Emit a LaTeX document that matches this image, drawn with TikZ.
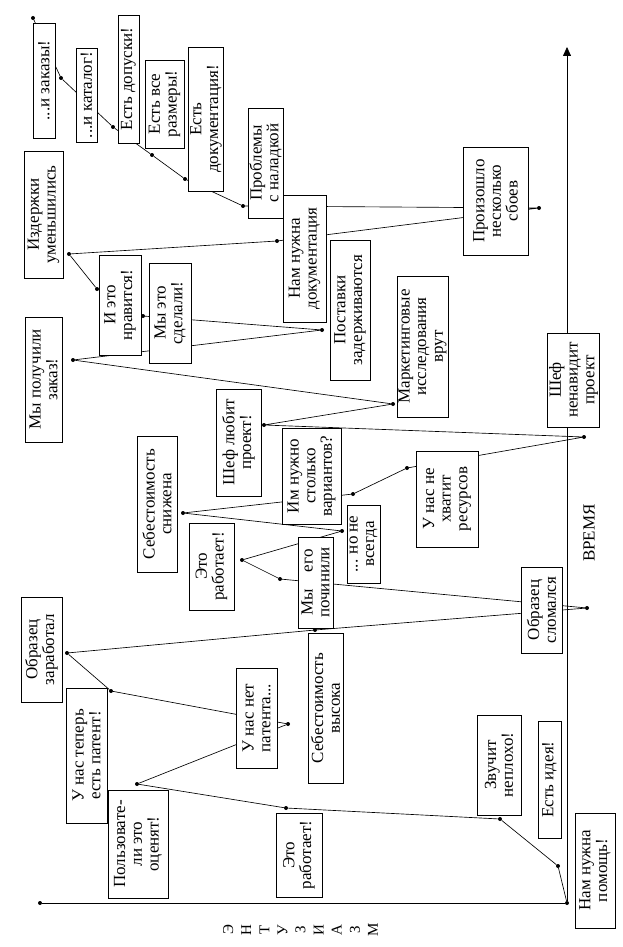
\documentclass[tikz,border=0pt]{standalone}
\usepackage{fontspec}
\setmainfont{Liberation Serif}
\usepackage{tikz}
\usetikzlibrary{arrows.meta,positioning}

\begin{document}
\begin{tikzpicture}[
  x=1pt, y=-1pt,
  box/.style={draw, fill=white, rotate=90, align=center, inner sep=1.5pt,
    line width=0.7pt, font=\fontsize{17}{16.7}\selectfont},
  sz/.style 2 args={minimum width=#1pt, minimum height=#2pt},
  dot/.style={circle, fill, inner sep=0pt, minimum size=4pt},
  curve/.style={line width=0.65pt},
  axis/.style={line width=0.75pt}]
  \fill[white] (0,0) rectangle (623,947);
  \useasboundingbox (0,0) rectangle (623,947);

  % points of the curve
  \node[dot] (help) at (567,903) {};
  \node[dot] (idea) at (558,866) {};
  \node[dot] (sounds) at (500,819) {};
  \node[dot] (works) at (286,808) {};
  \node[dot] (users) at (137,784) {};
  \node[dot] (nopatent) at (288,724) {};
  \node[dot] (patent) at (111,691) {};
  \node[dot] (protook) at (67,653) {};
  \node[dot] (costhigh) at (315,630) {};
  \node[dot] (protobroke) at (587,608) {};
  \node[dot] (fixed) at (280,579) {};
  \node[dot] (works2) at (242,560) {};
  \node[dot] (notalways) at (342,531) {};
  \node[dot] (costlow) at (183,513) {};
  \node[dot] (variants) at (353,494) {};
  \node[dot] (resources) at (407,468) {};
  \node[dot] (bosshates) at (584,437) {};
  \node[dot] (bossloves) at (264,425) {};
  \node[dot] (marketing) at (393,404) {};
  \node[dot] (order) at (73,360) {};
  \node[dot] (delays) at (322,330) {};
  \node[dot] (wedid) at (143,316) {};
  \node[dot] (likeit) at (97,289) {};
  \node[dot] (costsdown) at (69,254) {};
  \node[dot] (needdocs) at (277,241) {};
  \node[dot] (failures) at (539,208) {};
  \node[dot] (setup) at (243,206) {};
  \node[dot] (havedocs) at (185,179) {};
  \node[dot] (sizes) at (152,155) {};
  \node[dot] (tolerances) at (113,127) {};
  \node[dot] (catalog) at (61,78) {};
  \node[dot] (orders) at (33,18) {};

  % axes
  \node[dot] (enthend) at (40,903) {};
  \coordinate (timeend) at (567,47);
  \draw[axis] (help) -- (enthend);
  \draw[axis, -{Triangle[length=9pt, width=8pt]}] (help) -- (timeend);

  \draw[curve] (help) -- (idea) -- (sounds) -- (works) -- (users)
    -- (nopatent) -- (patent) -- (protook) -- (costhigh) -- (protobroke)
    -- (fixed) -- (works2) -- (notalways) -- (costlow) -- (variants)
    -- (resources) -- (bosshates) -- (bossloves) -- (marketing) -- (order)
    -- (delays) -- (wedid) -- (likeit) -- (costsdown) -- (needdocs)
    -- (failures) -- (setup) -- (havedocs) -- (sizes) -- (tolerances)
    -- (catalog) -- (orders);

  % labels
  \node[box, sz={115}{40}] (b-help) at (595,870.5) {Нам нужна\\помощь!};
  \node[box, sz={117}{23}] (b-idea) at (549.5,779.5) {Есть идея!};
  \node[box, sz={100}{44}] (b-sounds) at (499,765) {Звучит\\неплохо!};
  \node[box, sz={84}{46}] (b-works) at (299,855) {Это\\работает!};
  \node[box, sz={108}{60}] (b-users) at (138,844) {Пользовате-\\ли это\\оценят!};
  \node[box, sz={100}{41}] (b-nopatent) at (256.5,718) {У нас нет\\патента...};
  \node[box, sz={135}{41}] (b-patent) at (86.5,755.5) {У нас теперь\\есть патент!};
  \node[box, sz={105}{41}] (b-protook) at (41.5,649.5) {Образец\\заработал};
  \node[box, sz={150}{35}] (b-costhigh) at (325.5,708) {Себестоимость\\высока};
  \node[box, sz={86}{41}] (b-protobroke) at (541.5,610) {Образец\\сломался};
  \node[box, sz={91}{35}] (b-fixed) at (315.5,582.5) {Мы\quad его\\починили};
  \node[box, sz={87}{45}] (b-works2) at (211.5,566.5) {Это\\работает!};
  \node[box, sz={78}{33}] (b-notalways) at (363.5,544) {... но не\\всегда};
  \node[box, sz={136}{40}] (b-costlow) at (157,504) {Себестоимость\\снижена};
  \node[box, sz={96}{59}] (b-variants) at (311.5,476) {Им нужно\\столько\\вариантов?};
  \node[box, sz={96}{62}] (b-resources) at (447,499) {У нас не\\хватит\\ресурсов};
  \node[box, sz={94}{51}] (b-bosshates) at (573.5,380) {Шеф\\ненавидит\\проект};
  \node[box, sz={107}{45}] (b-bossloves) at (238.5,442.5) {Шеф любит\\проект!};
  \node[box, sz={141}{51}] (b-marketing) at (422.5,346.5) {Маркетинговые\\исследования\\врут};
  \node[box, sz={125}{37}] (b-order) at (43.5,379.5) {Мы получили\\заказ!};
  \node[box, sz={140}{40}] (b-delays) at (350,310) {Поставки\\задерживаются};
  \node[box, sz={100}{42}] (b-wedid) at (170,313) {Мы это\\сделали!};
  \node[box, sz={100}{42}] (b-likeit) at (120,305) {И это\\нравится!};
  \node[box, sz={127}{39}] (b-costsdown) at (43.5,214.5) {Издержки\\уменьшились};
  \node[box, sz={127}{43}] (b-needdocs) at (304.5,258.5) {Нам нужна\\документация};
  \node[box, sz={108}{65}] (b-failures) at (495.5,201) {Произошло\\несколько\\сбоев};
  \node[box, sz={110}{35}] (b-setup) at (265.5,163) {Проблемы\\с наладкой};
  \node[box, sz={144}{34}] (b-havedocs) at (206,119) {Есть\\документация!};
  \node[box, sz={88}{39}] (b-sizes) at (164.5,104) {Есть все\\размеры!};
  \node[box, sz={128}{21}] (b-tolerances) at (128.5,79) {Есть допуски!};
  \node[box, sz={94}{21}] (b-catalog) at (86.5,95) {...и каталог!};
  \node[box, sz={115}{22}] (b-orders) at (44,80.5) {...и заказы!};

  % axis names
  \node[rotate=90, font=\fontsize{17}{17}\selectfont] (time) at (589,533) {ВРЕМЯ};
  \node[rotate=90, align=center, font=\fontsize{15}{18.1}\selectfont] (enth)
    at (300.5,930) {Э\\Н\\Т\\У\\З\\И\\А\\З\\М};
\end{tikzpicture}
\end{document}
